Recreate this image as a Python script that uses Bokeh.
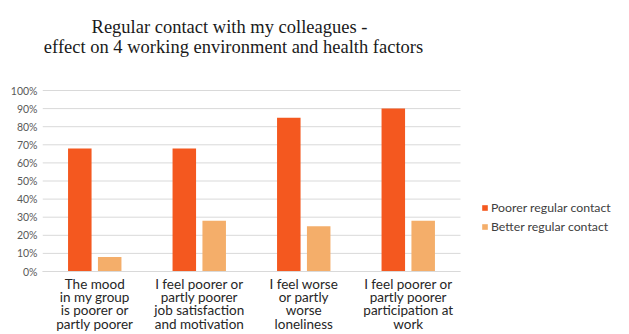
from bokeh.plotting import figure
from bokeh.models import (ColumnDataSource, Range1d, NumeralTickFormatter, FixedTicker,
                          Legend, LegendItem, Label)
from bokeh.embed import file_html
from bokeh.resources import INLINE

# Survey factors and shares of respondents reporting a poorer outcome
categories = [
    "The mood\nin my group\nis poorer or\npartly poorer",
    "I feel poorer or\npartly poorer\njob satisfaction\nand motivation",
    "I feel worse\nor partly\nworse\nloneliness",
    "I feel poorer or\npartly poorer\nparticipation at\nwork",
]
poorer_contact = [0.68, 0.68, 0.85, 0.90]
better_contact = [0.08, 0.28, 0.25, 0.28]
series_names = ["Poorer regular contact", "Better regular contact"]
y_ticks = [0.0, 0.1, 0.2, 0.3, 0.4, 0.5, 0.6, 0.7, 0.8, 0.9, 1.0]
title_lines = ["Regular contact with my colleagues -",
               "effect on 4 working environment and health factors"]

POORER_COLOR = "#F4581F"
BETTER_COLOR = "#F4AE6A"

n = len(categories)
centers = [i + 0.5 for i in range(n)]
BAR_OFFSET = 0.143
BAR_WIDTH = 0.225

src = ColumnDataSource(dict(
    pos_poorer=[c - BAR_OFFSET for c in centers],
    pos_better=[c + BAR_OFFSET for c in centers],
    poorer=poorer_contact, better=better_contact))

# The frame reaches the top and right edges so the title and legend live inside it;
# the 0-100% band occupies the lower-left 418 x 181 px of the frame.
PLOT_W, PLOT_H = 629, 334
LEFT, BOTTOM = 42, 63
FRAME_W, FRAME_H = PLOT_W - LEFT, PLOT_H - BOTTOM
CAT_PX, FULL_PX = 104.5, 181.0
p = figure(x_range=Range1d(0, FRAME_W / CAT_PX), y_range=Range1d(0, FRAME_H / FULL_PX),
           width=PLOT_W, height=PLOT_H,
           min_border_left=LEFT, min_border_right=0, min_border_top=0, min_border_bottom=BOTTOM,
           output_backend="svg", toolbar_location=None)
p.outline_line_color = None
p.xgrid.visible = False
p.ygrid.visible = False

# horizontal gridlines limited to the category area
p.segment(x0=[0] * len(y_ticks), x1=[n] * len(y_ticks), y0=y_ticks, y1=y_ticks,
          line_color="#D9D9D9", line_width=1)

r1 = p.vbar(x="pos_poorer", top="poorer", width=BAR_WIDTH, source=src,
            fill_color=POORER_COLOR, line_color=None)
r2 = p.vbar(x="pos_better", top="better", width=BAR_WIDTH, source=src,
            fill_color=BETTER_COLOR, line_color=None)

# category axis with wrapped labels
p.xaxis.ticker = FixedTicker(ticks=centers)
p.xaxis.major_label_overrides = {c: lab for c, lab in zip(centers, categories)}
p.xaxis.bounds = (0, n)
p.xaxis.axis_line_color = "#D9D9D9"
p.xaxis.major_tick_line_color = None
p.xaxis.minor_tick_line_color = None
p.xaxis.major_tick_out = 0
p.xaxis.major_tick_in = 0
p.xaxis.major_label_standoff = 4
p.xaxis.major_label_text_font = "Lato"
p.xaxis.major_label_text_font_size = "13.5px"
p.xaxis.major_label_text_color = "#262626"
p.xaxis.major_label_text_line_height = 0.84

# percentage axis
p.yaxis.ticker = FixedTicker(ticks=y_ticks)
p.yaxis.formatter = NumeralTickFormatter(format="0%")
p.yaxis.axis_line_color = None
p.yaxis.major_tick_line_color = None
p.yaxis.minor_tick_line_color = None
p.yaxis.major_tick_out = 0
p.yaxis.major_label_standoff = 5
p.yaxis.major_label_text_font = "Lato"
p.yaxis.major_label_text_font_size = "10.5px"
p.yaxis.major_label_text_color = "#595959"

# two-line chart title, centred lines (screen units from the frame's bottom-left)
title_centers = [187, 191]
for i, (line, cx) in enumerate(zip(title_lines, title_centers)):
    p.add_layout(Label(x=cx, y=FRAME_H - 26 - 20 * i, x_units="screen", y_units="screen",
                       text=line, text_align="center", text_baseline="alphabetic",
                       text_font="Liberation Serif", text_font_size="18.5px",
                       text_color="#1a1a1a"))

legend = Legend(items=[LegendItem(label=series_names[0], renderers=[r1]),
                       LegendItem(label=series_names[1], renderers=[r2])],
                location=(439, 35), padding=0, margin=0, spacing=0,
                glyph_width=7, glyph_height=7, label_height=19, label_standoff=3,
                label_text_font="Lato", label_text_font_size="12.3px",
                label_text_color="#404040",
                border_line_color=None, background_fill_alpha=0)
p.add_layout(legend)

open("out.html", "w").write(file_html(p, INLINE))
